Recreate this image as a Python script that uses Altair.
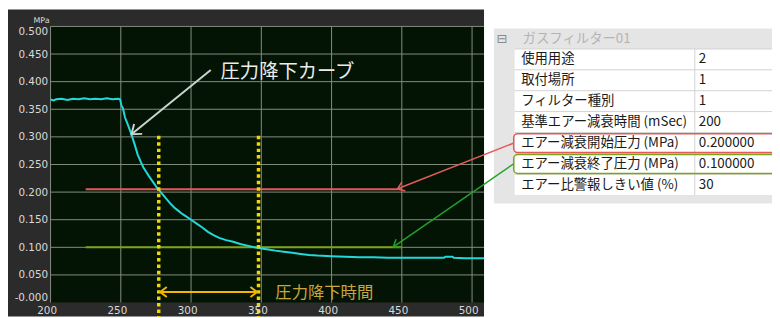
import altair as alt
import pandas as pd

# ---------------- data ----------------
curve_x = [200, 202, 204, 208, 212, 216, 220, 224, 228, 232, 236, 240, 244, 248, 249.5,
           250.5, 251.5, 253, 255, 257.5, 260, 262, 264, 266, 268, 270, 273, 276, 279,
           282, 285, 288, 291, 294, 297, 300, 304, 308, 312, 316, 320, 325, 330, 335,
           340, 345, 350, 355, 360, 366, 372, 378, 384, 390, 400, 410, 420, 430, 440,
           450, 460, 470, 480, 481, 486, 487, 495, 508.5]
curve_y = [0.368, 0.366, 0.368, 0.369, 0.367, 0.369, 0.368, 0.370, 0.368, 0.369, 0.368,
           0.370, 0.368, 0.369, 0.368, 0.356, 0.352, 0.335, 0.322, 0.305, 0.285, 0.268,
           0.256, 0.245, 0.237, 0.229, 0.218, 0.207, 0.198, 0.189, 0.180, 0.172, 0.166,
           0.160, 0.155, 0.150, 0.143, 0.136, 0.128, 0.122, 0.117, 0.113, 0.110, 0.106,
           0.103, 0.100, 0.098, 0.096, 0.094, 0.092, 0.090, 0.088, 0.086, 0.085, 0.084,
           0.083, 0.082, 0.082, 0.081, 0.081, 0.081, 0.081, 0.081, 0.083, 0.083, 0.081,
           0.080, 0.080]

x_ticks = [200, 250, 300, 350, 400, 450, 500]
y_ticks = [0.0, 0.05, 0.1, 0.15, 0.2, 0.25, 0.3, 0.35, 0.4, 0.45, 0.5]
x_domain = [200, 508.5]
y_domain = [0.0, 0.5]

start_level = 0.205
end_level = 0.100
level_x = [225, 450]
t_start, t_end = 277, 348
marker_top, marker_bottom = 0.302, -0.026
span_y = 0.019

curve_label = "圧力降下カーブ"
curve_label_pos = (321, 0.418)
curve_arrow = [(314, 0.421), (257.6, 0.3047)]       # tail, head
time_label = "圧力降下時間"
time_label_pos = (360, 0.018)
red_arrow = [(529.4, 0.2885), (447, 0.206)]
green_arrow = [(529.4, 0.2509), (444, 0.101)]

table_title = "ガスフィルター01"
table_labels = ["使用用途", "取付場所", "フィルター種別", "基準エアー減衰時間 (mSec)",
                "エアー減衰開始圧力 (MPa)", "エアー減衰終了圧力 (MPa)", "エアー比警報しきい値 (%)"]
table_values = ["2", "1", "1", "200", "0.200000", "0.100000", "30"]

# ---------------- styles ----------------
W, H = 438, 279
PANEL = "#2b2b2b"
PLOTBG = "#041404"
GRID = "#848e80"
CYAN = "#22d8d8"
RED = "#e45a5a"
OLIVE = "#7da21c"
GREEN = "#22a22a"
YELLOW = "#f2d600"
ORANGE = "#f6b400"
LABEL = "#dadada"
JP = "Noto Sans CJK JP"
CHEVRON = "M-1,-0.75L0,0L-1,0.75"

xs = alt.Scale(domain=x_domain, nice=False, zero=False)
ys = alt.Scale(domain=y_domain, nice=False, zero=False)
x_axis = alt.Axis(values=x_ticks, grid=False, domain=False, ticks=False, labelColor=LABEL,
                  labelFont="DejaVu Sans", labelFontSize=10.5, labelPadding=3, labelOffset=-4,
                  labelFlush=False, zindex=1, title=None)
y_axis = alt.Axis(values=y_ticks, grid=False, domain=False, ticks=False, labelColor=LABEL,
                  labelFont="DejaVu Sans", labelFontSize=10.5, labelPadding=3, labelFlush=True,
                  labelExpr="datum.value == 0 ? '-0.000' : format(datum.value, '.3f')",
                  zindex=1, title=None)


def X(f):
    return alt.X(f, type="quantitative", scale=xs, axis=x_axis, title=None)


def Y(f):
    return alt.Y(f, type="quantitative", scale=ys, axis=y_axis, title=None)


one = pd.DataFrame({"k": [0]})

panel = alt.Chart(one).mark_rect(color=PANEL).encode(
    x=alt.value(-43), x2=alt.value(438), y=alt.value(-17), y2=alt.value(293))

plotbg = alt.Chart(pd.DataFrame({"x": [x_domain[0]], "x2": [x_domain[1]],
                                 "y": [y_domain[0]], "y2": [y_domain[1]]})).mark_rect(
    color=PLOTBG).encode(x=X("x"), x2="x2", y=Y("y"), y2="y2")

vgrid = alt.Chart(pd.DataFrame({"x": x_ticks})).mark_rule(color=GRID, strokeWidth=1).encode(
    x=X("x"), y=alt.value(0), y2=alt.value(H))
hgrid = alt.Chart(pd.DataFrame({"y": [v for v in y_ticks if v > 0]})).mark_rule(
    color=GRID, strokeWidth=1).encode(y=Y("y"), x=alt.value(0), x2=alt.value(W))

mpa = alt.Chart(one).mark_text(text="MPa", color=LABEL, font="DejaVu Sans", fontSize=8,
                               align="right", baseline="middle").encode(
    x=alt.value(-1), y=alt.value(-5))

curve = alt.Chart(pd.DataFrame({"x": curve_x, "y": curve_y})).mark_line(
    color=CYAN, strokeWidth=2, interpolate="linear").encode(x=X("x"), y=Y("y"))

levels = alt.Chart(pd.DataFrame({"x": [level_x[0]] * 2, "x2": [level_x[1]] * 2,
                                 "y": [start_level, end_level],
                                 "c": ["s", "e"]})).mark_rule(strokeWidth=2).encode(
    x=X("x"), x2="x2", y=Y("y"),
    color=alt.Color("c:N", scale=alt.Scale(domain=["s", "e"], range=[RED, OLIVE]), legend=None))

markers = alt.Chart(pd.DataFrame({"x": [t_start, t_end], "y": [marker_top] * 2,
                                  "y2": [marker_bottom] * 2})).mark_rule(
    color=YELLOW, strokeWidth=3.5, strokeDash=[3.5, 3], strokeCap="butt").encode(
    x=X("x"), y=Y("y"), y2="y2")

span = alt.Chart(pd.DataFrame({"x": [t_start], "x2": [t_end], "y": [span_y]})).mark_rule(
    color=ORANGE, strokeWidth=2).encode(x=X("x"), x2="x2", y=Y("y"))
span_heads = alt.Chart(pd.DataFrame({"x": [t_start + 1, t_end - 1], "y": [span_y] * 2,
                                     "a": [180, 0]})).mark_point(
    shape=CHEVRON, filled=False, color=ORANGE, strokeWidth=2, size=180, opacity=1).encode(
    x=X("x"), y=Y("y"), angle=alt.Angle("a:Q", scale=None))

time_text = alt.Chart(pd.DataFrame({"x": [time_label_pos[0]], "y": [time_label_pos[1]],
                                    "t": [time_label]})).mark_text(
    color="#c9a640", font=JP, fontSize=16.5, align="left", baseline="middle").encode(
    x=X("x"), y=Y("y"), text="t:N")

curve_text = alt.Chart(pd.DataFrame({"x": [curve_label_pos[0]], "y": [curve_label_pos[1]],
                                     "t": [curve_label]})).mark_text(
    color="#ececec", font=JP, fontSize=19.5, align="left", baseline="middle").encode(
    x=X("x"), y=Y("y"), text="t:N")


def arrow(pts, color, width, size, angle):
    (tx, ty), (hx, hy) = pts
    line = alt.Chart(pd.DataFrame({"x": [tx], "y": [ty], "x2": [hx], "y2": [hy]})).mark_rule(
        color=color, strokeWidth=width).encode(x=X("x"), y=Y("y"), x2="x2", y2="y2")
    head = alt.Chart(pd.DataFrame({"x": [hx], "y": [hy]})).mark_point(
        shape=CHEVRON, filled=False, color=color, strokeWidth=width, size=size, angle=angle,
        opacity=1).encode(x=X("x"), y=Y("y"))
    return [line, head]


arrows = (arrow(curve_arrow, "#c8d4cc", 2, 300, 141)
          + arrow(red_arrow, RED, 1.5, 170, 159)
          + arrow(green_arrow, GREEN, 1.5, 170, 146))

# ---------------- table (pixel layout from row index) ----------------
tbl = pd.DataFrame({"i": list(range(len(table_labels))), "label": table_labels,
                    "value": table_values})
ROW0, ROWH = 22.75, 21.1

tbl_bg = alt.Chart(one).mark_rect(color="#e5e5e5").encode(
    x=alt.value(448), x2=alt.value(729), y=alt.value(2), y2=alt.value(179))
tbl_cells = alt.Chart(one).mark_rect(color="#ffffff").encode(
    x=alt.value(469), x2=alt.value(729), y=alt.value(ROW0),
    y2=alt.value(ROW0 + ROWH * len(table_labels)))
tbl_hlines = alt.Chart(tbl).transform_calculate(py=f"{ROW0} + {ROWH} * datum.i").mark_rule(
    color="#d2d2d2", strokeWidth=1).encode(
    y=alt.Y("py:Q", scale=None), x=alt.value(469), x2=alt.value(729))
tbl_vline = alt.Chart(one).mark_rule(color="#d2d2d2", strokeWidth=1).encode(
    x=alt.value(651), y=alt.value(ROW0), y2=alt.value(ROW0 + ROWH * len(table_labels)))
tbl_box = alt.Chart(tbl).transform_filter("datum.i == 4 || datum.i == 5").transform_calculate(
    py=f"{ROW0} + {ROWH} * datum.i + 1.2", py2=f"{ROW0} + {ROWH} * (datum.i + 1) - 0.8"
).mark_rect(fillOpacity=0, strokeWidth=1.5, cornerRadius=4).encode(
    y=alt.Y("py:Q", scale=None), y2="py2:Q", x=alt.value(468), x2=alt.value(740),
    stroke=alt.Stroke("i:N", scale=alt.Scale(domain=[4, 5], range=[RED, OLIVE]), legend=None))
tbl_labels = alt.Chart(tbl).transform_calculate(py=f"{ROW0} + {ROWH} * (datum.i + 0.5)").mark_text(
    font=JP, fontSize=13.5, color="#1a1a1a", align="left", baseline="middle").encode(
    y=alt.Y("py:Q", scale=None), x=alt.value(475.5), text="label:N")
tbl_values = alt.Chart(tbl).transform_calculate(py=f"{ROW0} + {ROWH} * (datum.i + 0.5)").mark_text(
    font=JP, fontSize=13.5, color="#1a1a1a", align="left", baseline="middle").encode(
    y=alt.Y("py:Q", scale=None), x=alt.value(655), text="value:N")
tbl_title = alt.Chart(one).mark_text(text=table_title, font=JP, fontSize=13.5, color="#b4b4b4",
                                     align="left", baseline="middle").encode(
    x=alt.value(477), y=alt.value(12.7))
tbl_sym = alt.Chart(one).mark_text(text="⊟", font="DejaVu Sans", fontSize=13, color="#8a8a8a",
                                   align="center", baseline="middle").encode(
    x=alt.value(456), y=alt.value(12.7))

chart = alt.layer(
    panel, plotbg, vgrid, hgrid, mpa, levels, curve, markers, span, span_heads,
    time_text, curve_text, tbl_bg, tbl_cells, tbl_hlines, tbl_vline, tbl_labels, tbl_values,
    tbl_title, tbl_sym, tbl_box, *arrows
).properties(
    width=W, height=H,
    autosize=alt.AutoSizeParams(type="none"),
    padding={"left": 43, "top": 17, "right": 291, "bottom": 14},
    background="#ffffff",
).configure_view(stroke=None)

chart.save("out.html", embed_options={"renderer": "svg", "actions": False})
